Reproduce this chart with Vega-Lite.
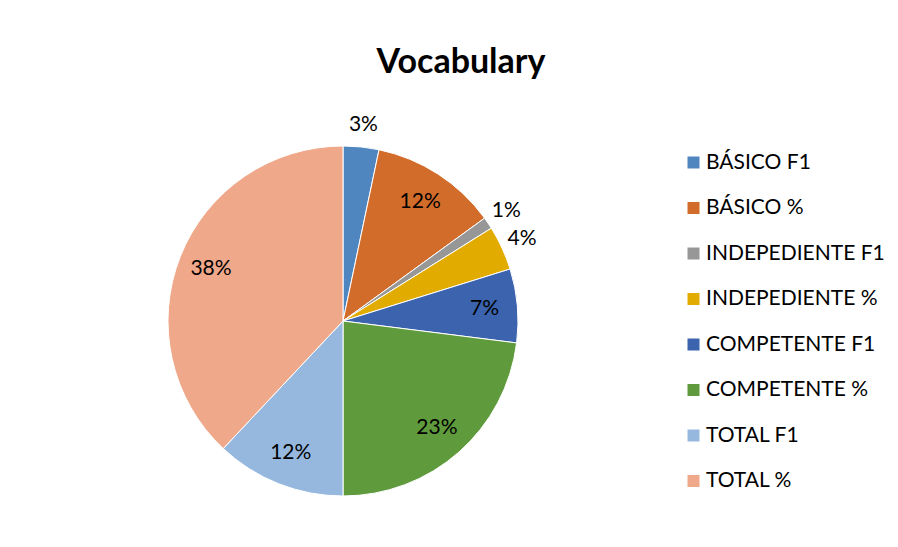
{
  "$schema": "https://vega.github.io/schema/vega-lite/v6.json",
  "width": 350,
  "height": 350,
  "autosize": {"type": "none"},
  "padding": {"left": 168, "top": 146, "right": 380, "bottom": 51},
  "background": "white",
  "config": {"view": {"stroke": null}, "font": "Lato"},
  "title": {
    "text": "Vocabulary",
    "fontSize": 34,
    "fontWeight": "bold",
    "font": "Lato",
    "color": "#000000",
    "anchor": "middle",
    "frame": "group",
    "dx": 118,
    "offset": 34
  },
  "data": {
    "values": [
      {"idx": 1, "category": "BÁSICO F1", "value": 0.033},
      {"idx": 2, "category": "BÁSICO %", "value": 0.117},
      {"idx": 3, "category": "INDEPEDIENTE F1", "value": 0.011},
      {"idx": 4, "category": "INDEPEDIENTE %", "value": 0.041},
      {"idx": 5, "category": "COMPETENTE F1", "value": 0.068},
      {"idx": 6, "category": "COMPETENTE %", "value": 0.23},
      {"idx": 7, "category": "TOTAL F1", "value": 0.12},
      {"idx": 8, "category": "TOTAL %", "value": 0.38}
    ]
  },
  "encoding": {
    "theta": {"field": "value", "type": "quantitative", "stack": true},
    "order": {"field": "idx", "type": "quantitative"}
  },
  "layer": [
    {
      "mark": {"type": "arc", "stroke": "white", "strokeWidth": 1},
      "encoding": {
        "color": {
          "field": "category",
          "type": "nominal",
          "scale": {
            "domain": ["BÁSICO F1", "BÁSICO %", "INDEPEDIENTE F1", "INDEPEDIENTE %", "COMPETENTE F1", "COMPETENTE %", "TOTAL F1", "TOTAL %"],
            "range": ["#4F86C0", "#D26C2A", "#979797", "#E2AB00", "#3B63AE", "#5F9B3C", "#96B8DF", "#EFA889"]
          },
          "legend": {
            "title": null,
            "orient": "none",
            "legendX": 515,
            "legendY": 6,
            "symbolType": "square",
            "symbolSize": 144,
            "symbolStrokeWidth": 0,
            "labelFontSize": 21,
            "labelFont": "Lato",
            "labelColor": "#000000",
            "labelOffset": 2,
            "rowPadding": 23.5,
            "labelLimit": 300
          }
        }
      }
    },
    {
      "mark": {"type": "text", "radius": 142, "fontSize": 21, "font": "Lato", "color": "#000000"},
      "encoding": {
        "text": {"field": "value", "type": "quantitative", "format": ".0%"},
        "opacity": {"condition": {"test": "datum.value >= 0.05", "value": 1}, "value": 0}
      }
    },
    {
      "mark": {"type": "text", "radius": 197, "fontSize": 21, "font": "Lato", "color": "#000000"},
      "encoding": {
        "text": {"field": "value", "type": "quantitative", "format": ".0%"},
        "opacity": {"condition": {"test": "datum.value < 0.05", "value": 1}, "value": 0}
      }
    }
  ]
}
